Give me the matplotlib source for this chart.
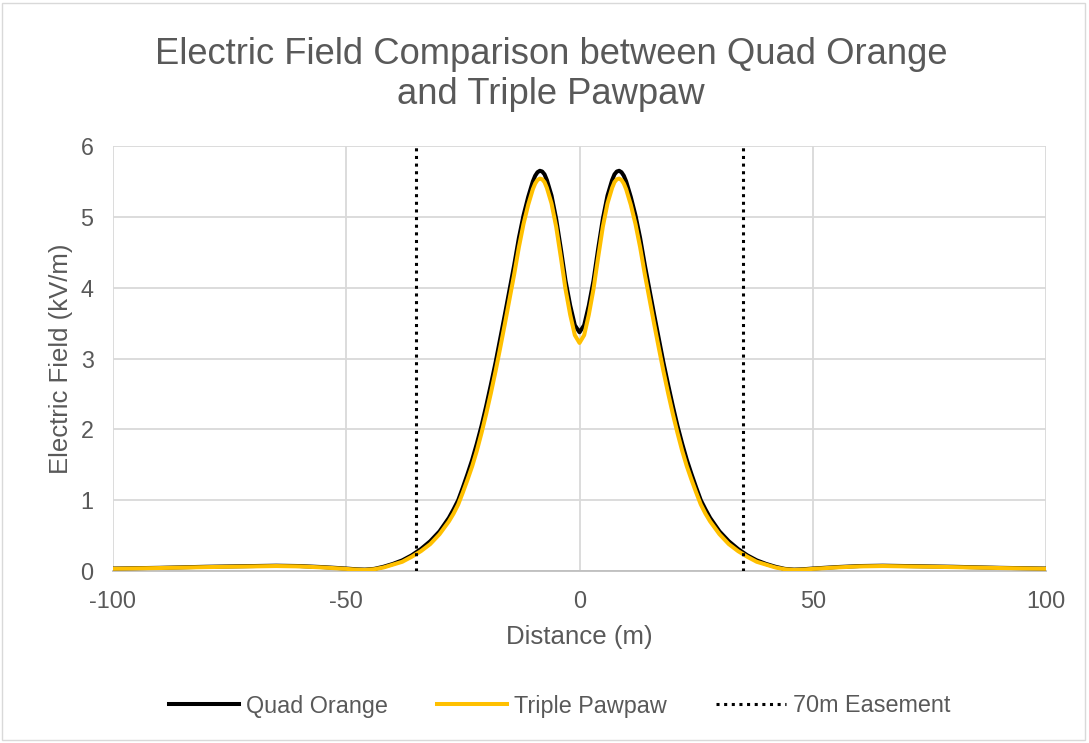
import numpy as np
import matplotlib
matplotlib.use("Agg")
import matplotlib.pyplot as plt
from matplotlib.patches import Rectangle

plt.rcParams['font.family'] = ['Liberation Sans', 'DejaVu Sans']
plt.rcParams['axes.unicode_minus'] = False

# distancia desde el centro (m), solo mitad positiva; el perfil es simétrico
half_dist = [0, 1, 2, 3, 4, 5, 6, 7, 7.5, 8, 8.5, 9, 9.5, 10, 11, 12, 13, 14, 15, 16,
             17, 18, 19, 20, 21, 22, 23, 24, 25, 26, 27, 28, 30, 32, 34, 36, 38, 40,
             42, 44, 46, 48, 50, 55, 60, 65, 70, 80, 90, 100]

quad_orange_half = [3.37, 3.47, 3.75, 4.10, 4.55, 4.97, 5.30, 5.52, 5.60, 5.64, 5.65,
                    5.63, 5.58, 5.50, 5.28, 5.02, 4.70, 4.32, 3.97, 3.62, 3.28, 2.94,
                    2.63, 2.33, 2.05, 1.80, 1.57, 1.37, 1.18, 1.00, 0.87, 0.75, 0.56,
                    0.42, 0.31, 0.22, 0.15, 0.10, 0.06, 0.03, 0.02, 0.025, 0.035,
                    0.055, 0.07, 0.075, 0.07, 0.06, 0.045, 0.035]

triple_pawpaw_half = [3.22, 3.33, 3.62, 3.98, 4.43, 4.86, 5.19, 5.41, 5.49, 5.53, 5.54,
                      5.52, 5.47, 5.39, 5.17, 4.90, 4.57, 4.19, 3.84, 3.49, 3.15, 2.82,
                      2.51, 2.22, 1.95, 1.70, 1.48, 1.29, 1.11, 0.94, 0.81, 0.70, 0.52,
                      0.38, 0.28, 0.20, 0.13, 0.09, 0.05, 0.025, 0.015, 0.02, 0.03,
                      0.05, 0.065, 0.07, 0.065, 0.055, 0.042, 0.032]

easement = [-35, 35]
x_ticks = [-100, -50, 0, 50, 100]
y_ticks = [0, 1, 2, 3, 4, 5, 6]

TEXT = '#595959'
GRID = '#d9d9d9'


def mirror(vals, neg=False):
    v = np.asarray(vals, dtype=float)
    left = -v[:0:-1] if neg else v[:0:-1]
    return np.concatenate([left, v])


dist = mirror(half_dist, neg=True)
quad = mirror(quad_orange_half)
triple = mirror(triple_pawpaw_half)

fig = plt.figure(figsize=(10.89, 7.43), dpi=100)
ax = fig.add_axes([113 / 1089, 1 - 571 / 743, (1046 - 113) / 1089, (571 - 146) / 743])

ax.plot(dist, quad, color='black', lw=2.9, label='Quad Orange', zorder=3,
        solid_joinstyle='round')
ax.plot(dist, triple, color='#FFC000', lw=2.9, label='Triple Pawpaw', zorder=4,
        solid_joinstyle='round')
for i, e in enumerate(easement):
    ax.plot([e, e], [0, 6], color='black', lw=2.2, ls=(0, (1, 1.5)),
            label='70m Easement' if i == 0 else None, zorder=5)

ax.set_xlim(-100, 100)
ax.set_ylim(0, 6)
ax.set_xticks(x_ticks)
ax.set_yticks(y_ticks)
ax.grid(True, color=GRID, lw=1.3)
ax.set_axisbelow(True)
for s in ['top', 'left', 'right']:
    ax.spines[s].set_visible(False)
ax.spines['bottom'].set_color('#bfbfbf')
ax.spines['bottom'].set_linewidth(1.3)
ax.tick_params(length=0, labelsize=16.8, labelcolor=TEXT)
ax.tick_params(axis='x', pad=14)
ax.tick_params(axis='y', pad=14)

ax.set_xlabel('Distance (m)', fontsize=18.6, color=TEXT, labelpad=8)
ax.set_ylabel('Electric Field (kV/m)', fontsize=18.5, color=TEXT, labelpad=5)

fig.text(0.506, 0.9, 'Electric Field Comparison between Quad Orange\nand Triple Pawpaw',
         ha='center', va='center', fontsize=26.2, color=TEXT, linespacing=1.2)

leg = fig.legend(loc='center', bbox_to_anchor=(560 / 1089, 1 - 706 / 743), ncol=3,
                 frameon=False, fontsize=16.8, handlelength=3.0, columnspacing=2.1,
                 handletextpad=0.3)
for t in leg.get_texts():
    t.set_color(TEXT)

fig.patches.append(Rectangle((0.002, 0.004), 0.994, 0.992, transform=fig.transFigure,
                             fill=False, edgecolor='#d9d9d9', lw=1))

fig.savefig('out.png', dpi=100)
